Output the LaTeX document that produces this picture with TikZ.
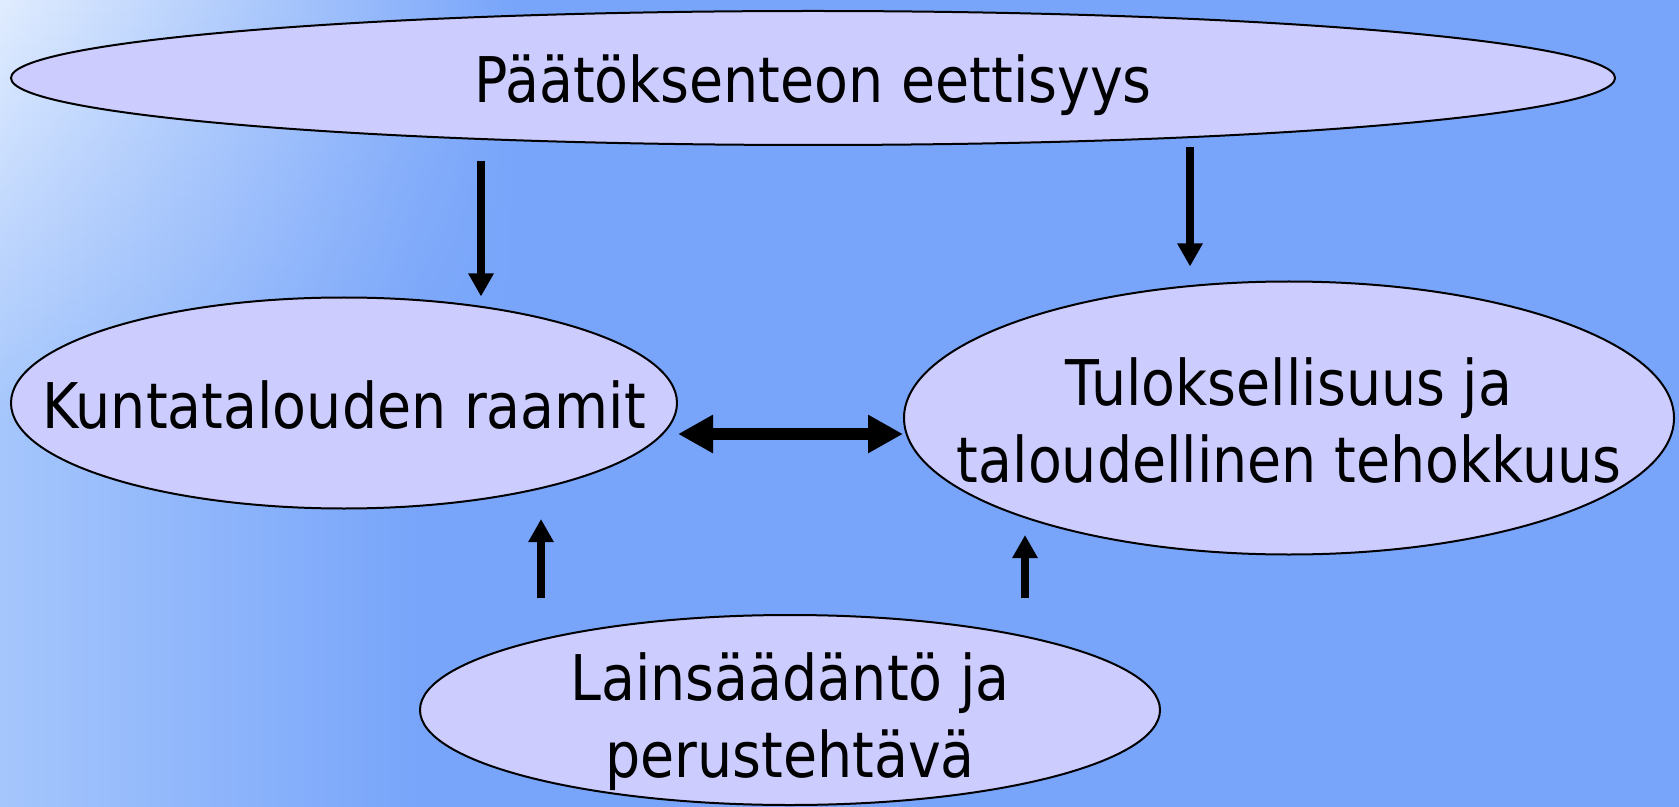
\documentclass[tikz,border=0pt]{standalone}
\usepackage{fontspec}
\setmainfont{DejaVu Sans}[FakeStretch=0.88]
\usetikzlibrary{shapes.geometric,arrows.meta,fadings}

\definecolor{bgblue}{RGB}{120,165,250}
\definecolor{bgmid}{RGB}{165,198,252}
\definecolor{bglight}{RGB}{225,237,255}
\definecolor{soikio}{RGB}{204,204,255}

% teksti ei vaikuta soikion kokoon
\newcommand{\keskita}[1]{\clap{\begin{tabular}[b]{@{}c@{}}#1\end{tabular}}}

\tikzset{
  kupla/.style={ellipse, draw=black, line width=1pt, fill=soikio, inner sep=0pt,
    text depth=0pt, font=\fontsize{31.5}{38.5}\selectfont},
  nuoli/.style={line width=4pt, -{Triangle[length=11.5pt,width=12pt]}},
  kaksinuoli/.style={line width=6pt, {Triangle[length=17.5pt,width=18pt]}-{Triangle[length=17.5pt,width=18pt]}}
}

\begin{document}
\begin{tikzpicture}[x=0.5pt, y=-0.5pt]
  \useasboundingbox (0,0) rectangle (1679,807);
  % tausta
  \fill[bgblue] (0,0) rectangle (1679,807);
  \shade[left color=bgmid, right color=bgblue] (0,0) rectangle (420,807);
  \shade[left color=bglight, right color=bgblue, path fading=south] (0,0) rectangle (520,420);

  \node[kupla, minimum width=802pt, minimum height=67pt, text height=25pt] (paatos) at (813,78) {\keskita{Päätöksenteon eettisyys}};
  \node[kupla, minimum width=333pt, minimum height=105.5pt, text height=25pt] (kunta) at (344,403) {\keskita{Kuntatalouden raamit}};
  \node[kupla, minimum width=385pt, minimum height=136.5pt, text height=64pt] (tulos) at (1289,418) {\keskita{Tuloksellisuus ja\\taloudellinen tehokkuus}};
  \node[kupla, minimum width=370pt, minimum height=95pt, text height=67pt] (laki) at (790,710) {\keskita{Lainsäädäntö ja\\perustehtävä}};

  \coordinate (d1) at (481,161);
  \coordinate (d2) at (1190,147);
  \coordinate (u1) at (541,519);
  \coordinate (u2) at (1025,535);
  \coordinate (h) at (0,434);

  \draw[nuoli] (d1) -- (d1 |- kunta.north);
  \draw[nuoli, shorten >=7pt] (d2) -- (d2 |- tulos.north);
  \draw[nuoli, shorten <=8pt] (laki.north -| u1) -- (u1);
  \draw[nuoli, shorten <=8pt] (laki.north -| u2) -- (u2);
  % kaksisuuntainen nuoli
  \draw[kaksinuoli] (kunta.east |- h) -- (tulos.west |- h);
\end{tikzpicture}
\end{document}
